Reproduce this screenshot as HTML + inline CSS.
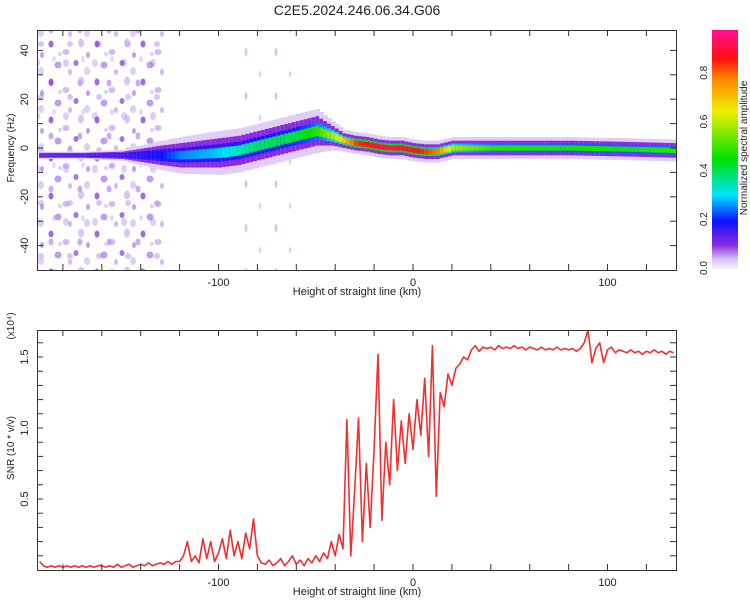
<!DOCTYPE html>
<html><head><meta charset="utf-8"><style>
body{margin:0;background:#fff;width:750px;height:600px;overflow:hidden}
text{font-family:"Liberation Sans",sans-serif;fill:#222}
</style></head><body>
<svg id="svg" width="750" height="600" xmlns="http://www.w3.org/2000/svg">
<defs>
<linearGradient id="cmap" x1="0" y1="1" x2="0" y2="0">
<stop offset="0" stop-color="#f4eefc"/><stop offset="0.04" stop-color="#d9c3f5"/>
<stop offset="0.1" stop-color="#8a2be2"/><stop offset="0.2" stop-color="#1010ff"/>
<stop offset="0.31" stop-color="#00e5ff"/><stop offset="0.46" stop-color="#00e000"/>
<stop offset="0.66" stop-color="#f0f000"/><stop offset="0.8" stop-color="#ff8000"/>
<stop offset="0.88" stop-color="#ff1010"/><stop offset="1" stop-color="#ff1090"/>
</linearGradient>
<pattern id="noise" width="46" height="38" patternUnits="userSpaceOnUse">
<ellipse cx="5" cy="6" rx="2.5" ry="3.5" fill="#7a28e0" opacity="0.7"/>
<ellipse cx="20" cy="14" rx="3.5" ry="3" fill="#b58cf0" opacity="0.6"/>
<ellipse cx="35" cy="5" rx="3" ry="4.5" fill="#c9adf5" opacity="0.7"/>
<ellipse cx="12" cy="27" rx="3.5" ry="3.5" fill="#9a5ae8" opacity="0.6"/>
<ellipse cx="30" cy="25" rx="2.5" ry="3" fill="#6a18d8" opacity="0.6"/>
<ellipse cx="41" cy="33" rx="3" ry="4" fill="#d6c2f7" opacity="0.8"/>
<ellipse cx="24" cy="34" rx="2" ry="3" fill="#b38af0" opacity="0.6"/>
<ellipse cx="42" cy="17" rx="2" ry="3" fill="#8e40e4" opacity="0.5"/>
<ellipse cx="14" cy="16" rx="2" ry="2" fill="#d9c3f5" opacity="0.8"/>
</pattern>
<pattern id="noiseB" width="29" height="53" patternUnits="userSpaceOnUse">
<ellipse cx="8" cy="10" rx="3" ry="4" fill="#d6c2f7" opacity="0.8"/>
<ellipse cx="22" cy="30" rx="2.5" ry="3.5" fill="#9a5ae8" opacity="0.5"/>
<ellipse cx="12" cy="44" rx="3" ry="3" fill="#c9adf5" opacity="0.7"/>
<ellipse cx="25" cy="6" rx="2" ry="3" fill="#e3d6f8" opacity="0.9"/>
</pattern>
<pattern id="noise2" width="30" height="44" patternUnits="userSpaceOnUse">
<ellipse cx="6" cy="8" rx="1.5" ry="4" fill="#c9adf5" opacity="0.7"/>
<ellipse cx="20" cy="30" rx="1.5" ry="3" fill="#d9c3f5" opacity="0.7"/>
</pattern>
<clipPath id="clipTop"><rect x="37" y="30" width="639" height="240"/></clipPath>
<clipPath id="clipBot"><rect x="37" y="330" width="639" height="240"/></clipPath>
</defs>
<text x="357" y="15" font-size="14" text-anchor="middle">C2E5.2024.246.06.34.G06</text>
<g id="topPanel"></g>
<g id="botPanel"></g>
</svg>
<script>
// ---- data ----
var ridgeH = [-192,-170,-150,-130,-120,-100,-90,-80,-70,-60,-50,-46,-42,-36,-30,-24,-18,-12,-6,0,6,12,20,40,80,110,134];
var ridgeF = [-3,-3,-3,-3,-3,-2,-1,1,3,5,7,6,5,3,2,1.5,0.5,0,0,-1,-1.5,-1.5,0,0,0,-0.5,-1];
var ridgeA = [0.1,0.12,0.15,0.2,0.26,0.3,0.35,0.4,0.42,0.42,0.5,0.55,0.6,0.72,0.85,0.9,0.92,0.95,0.92,0.9,0.85,0.8,0.6,0.5,0.48,0.48,0.5];
var ridgeW = [1,1,1.5,4,5,6,6,6,6,6,6,5,4,3,3,3,3,3,3,3,3,3,3,3,3,3,3];
var snrStart = -192, snrStep = 2;
var snrVals = [0.06,0.03,0.02,0.03,0.02,0.03,0.02,0.03,0.02,0.03,0.02,0.03,0.02,0.03,0.02,0.03,0.03,0.02,0.03,0.02,0.04,0.02,0.03,0.04,0.02,0.03,0.04,0.03,0.05,0.03,0.04,0.05,0.04,0.06,0.04,0.06,
0.06,0.1,0.2,0.06,0.1,0.05,0.22,0.08,0.2,0.06,0.12,0.22,0.08,0.28,0.1,0.2,0.08,0.26,0.15,0.36,0.1,0.05,
0.04,0.07,0.03,0.05,0.08,0.03,0.06,0.1,0.04,0.07,0.03,0.08,0.05,0.1,0.06,0.12,
0.08,0.2,0.1,0.25,0.15,1.06,0.1,0.55,1.07,0.2,0.75,0.3,0.85,1.52,0.35,0.9,0.6,1.2,0.7,1.05,0.75,1.1,
0.85,1.2,0.95,1.35,0.8,1.58,0.52,1.25,1.15,1.38,1.3,1.42,1.45,1.5,1.48,1.55,1.58,1.54,1.57,
1.56,1.57,1.55,1.58,1.56,1.57,1.56,1.58,1.56,1.57,1.55,1.57,1.56,1.55,1.57,1.55,1.56,1.55,1.57,1.55,1.56,1.55,1.56,1.54,1.56,1.6,1.69,1.46,1.56,1.6,1.46,1.55,1.57,1.53,1.55,1.54,1.53,1.55,1.53,1.54,1.52,1.54,1.53,1.55,1.53,1.54,1.52,1.54,1.53];
var xTickLabels = [-100,0,100];
var fTickLabels = [40,20,0,-20,-40];
var snrTickLabels = ["0.5","1.0","1.5"];
var cbTickLabels = ["0.0","0.2","0.4","0.6","0.8"];
// ---- scales ----
var NS="http://www.w3.org/2000/svg";
function X(h){return 413+h*1.945;}
function YF(f){return 148-f*2.44;}
function YS(v){return 570-v*142;}
function el(t,a,p){var e=document.createElementNS(NS,t);for(var k in a)e.setAttribute(k,a[k]);p.appendChild(e);return e;}
function interp(arrX,arrY,x){for(var i=0;i<arrX.length-1;i++){if(x<=arrX[i+1]){var t=(x-arrX[i])/(arrX[i+1]-arrX[i]);return arrY[i]+t*(arrY[i+1]-arrY[i]);}}return arrY[arrY.length-1];}
var stops=[[0,[244,238,252]],[0.04,[217,195,245]],[0.1,[138,43,226]],[0.2,[16,16,255]],[0.31,[0,229,255]],[0.46,[0,224,0]],[0.66,[240,240,0]],[0.8,[255,128,0]],[0.88,[255,16,16]],[1,[255,16,144]]];
function cmap(v){for(var i=0;i<stops.length-1;i++){if(v<=stops[i+1][0]){var t=(v-stops[i][0])/(stops[i+1][0]-stops[i][0]);var a=stops[i][1],b=stops[i+1][1];return "rgb("+a.map(function(c,j){return Math.round(c+t*(b[j]-c));}).join(",")+")";}}return "rgb(255,16,144)";}
var topG=document.getElementById('topPanel'), botG=document.getElementById('botPanel');
// ---- spectrogram ----
var g=el('g',{'clip-path':'url(#clipTop)'},topG);
el('rect',{x:X(-193),y:30,width:X(-128)-X(-193),height:240,fill:'url(#noiseB)'},g);
el('rect',{x:X(-193),y:30,width:X(-128)-X(-193),height:240,fill:'url(#noise)'},g);
el('rect',{x:X(-88),y:30,width:X(-62)-X(-88),height:240,fill:'url(#noise2)'},g);
for(var hh=-192;hh<=136;hh+=2){
  var fc=interp(ridgeH,ridgeF,hh),am=interp(ridgeH,ridgeA,hh),w=interp(ridgeH,ridgeW,hh);
  var x0=X(hh)-0.5, wd=2*1.945+1;
  var layers=[[w*1.5,0.03],[w,0.1],[w*0.6,Math.max(0.18,am*0.5)],[w*0.35,am]];
  layers.forEach(function(L){
    var r=el('rect',{x:x0,y:YF(fc+L[0]),width:wd,height:L[0]*2*2.44,fill:cmap(L[1])},g);
    
    
  });
}
// frame and ticks
function frame(p,y0,y1){el('rect',{x:37.5,y:y0+0.5,width:639,height:y1-y0,fill:'none',stroke:'#333','stroke-width':1},p);
  for(var h=-180;h<=130;h+=20){var x=X(h);el('line',{x1:x,x2:x,y1:y0,y2:y0+6,stroke:'#333'},p);el('line',{x1:x,x2:x,y1:y1,y2:y1-6,stroke:'#333'},p);}
  xTickLabels.forEach(function(v){var t=el('text',{x:X(v),y:y1+16,'font-size':11,'text-anchor':'middle'},p);t.textContent=v;});
  var xl=el('text',{x:357,y:y1+25,'font-size':11,'text-anchor':'middle'},p);xl.textContent='Height of straight line (km)';
  
  }
frame(topG,30,270);
for(var fq=-40;fq<=40;fq+=10){var y=YF(fq);el('line',{x1:37,x2:43,y1:y,y2:y,stroke:'#333'},topG);el('line',{x1:676,x2:670,y1:y,y2:y,stroke:'#333'},topG);}
fTickLabels.forEach(function(v){var y=YF(v);var t=el('text',{x:0,y:0,'font-size':11,'text-anchor':'middle',transform:'translate(28,'+y+') rotate(-90)'},topG);t.textContent=v;});
var yl=el('text',{x:0,y:0,'font-size':10,'text-anchor':'middle',transform:'translate(14,148) rotate(-90)'},topG);yl.textContent='Frequency (Hz)';
// colorbar
var cb=el('g',{},topG);


el('rect',{x:712,y:30,width:26,height:239,fill:'url(#cmap)'},cb);
cbTickLabels.forEach(function(v){var y=268-parseFloat(v)*244;var t=el('text',{x:0,y:0,'font-size':10,'text-anchor':'middle',transform:'translate(707,'+y+') rotate(-90)'},cb);t.textContent=v;});
var cl=el('text',{x:0,y:0,'font-size':10,'text-anchor':'middle',transform:'translate(747,148) rotate(-90)'},cb);cl.textContent='Normalized spectral amplitude';
// ---- SNR ----
var pts=snrVals.map(function(v,i){return X(snrStart+i*snrStep).toFixed(1)+','+YS(v).toFixed(1);}).join(' ');
var gb=el('g',{'clip-path':'url(#clipBot)'},botG);
var line=el('polyline',{points:pts,fill:'none',stroke:'#f03030','stroke-width':1.6,'stroke-linejoin':'round'},gb);


frame(botG,330,570);
for(var k=1;k<17;k++){var yy=YS(k/10);el('line',{x1:37,x2:43,y1:yy,y2:yy,stroke:'#333'},botG);el('line',{x1:676,x2:670,y1:yy,y2:yy,stroke:'#333'},botG);}
snrTickLabels.forEach(function(v){var y=YS(parseFloat(v));var t=el('text',{x:0,y:0,'font-size':11,'text-anchor':'middle',transform:'translate(28,'+y+') rotate(-90)'},botG);t.textContent=v;});
var sl=el('text',{x:0,y:0,'font-size':10,'text-anchor':'middle',transform:'translate(14,448) rotate(-90)'},botG);sl.textContent='SNR (10 * v/v)';
var ex=el('text',{x:0,y:0,'font-size':10,'text-anchor':'middle',transform:'translate(14,326) rotate(-90)'},botG);ex.textContent='(x10⁴)';
</script>
</body></html>
